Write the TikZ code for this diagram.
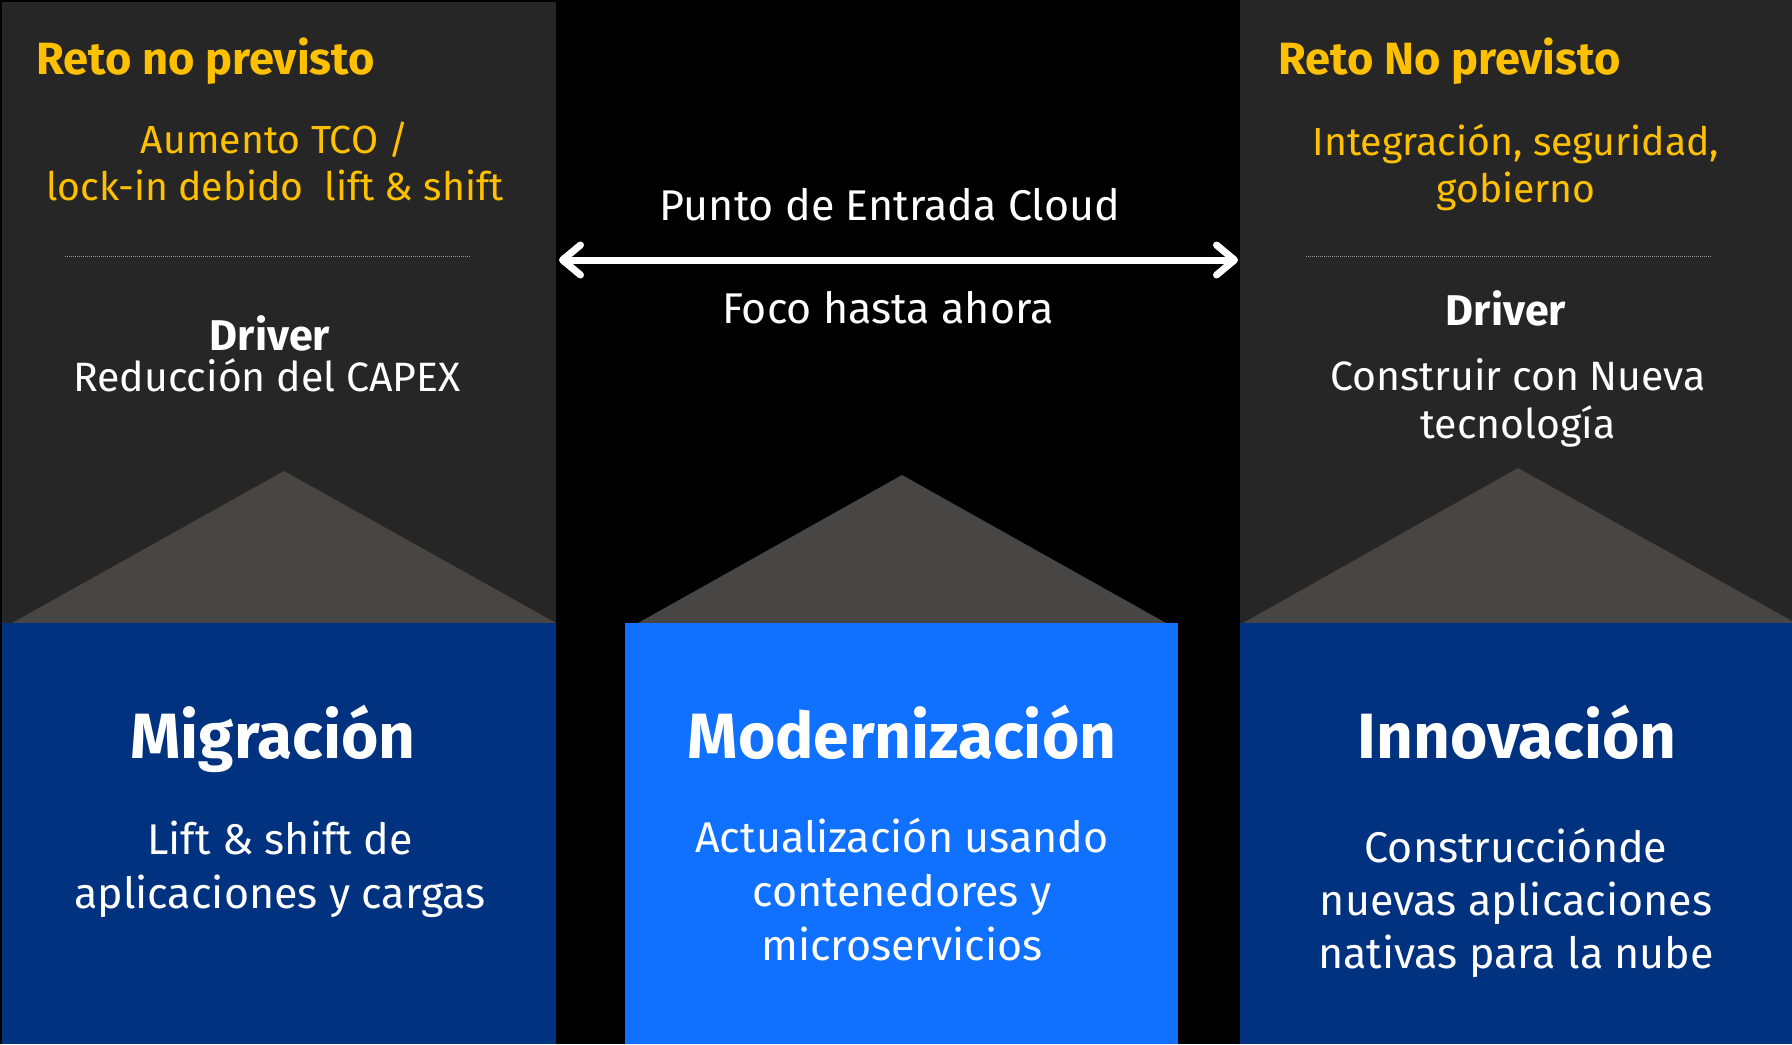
\documentclass[tikz,border=0pt]{standalone}
\usepackage{fontspec}
\setmainfont{Fira Sans}
\usetikzlibrary{arrows.meta}

\definecolor{panel}{RGB}{38,38,38}
\definecolor{roof}{RGB}{71,70,69}
\definecolor{navy}{RGB}{0,50,128}
\definecolor{sky}{RGB}{16,112,255}
\definecolor{amber}{RGB}{255,192,0}
\definecolor{rulegray}{RGB}{150,150,150}

\begin{document}
\begin{tikzpicture}[x=0.5pt,y=-0.5pt,
   reto/.style={text=amber,font=\fontsize{22.6}{26}\selectfont\bfseries,anchor=base west,inner sep=0pt},
   riesgo/.style={text=amber,font=\fontsize{19.6}{23.5}\selectfont,align=center,anchor=base,inner sep=0pt},
   drv/.style={text=white,font=\fontsize{21.5}{26}\selectfont\bfseries,anchor=base,inner sep=0pt},
   txt/.style={text=white,font=\fontsize{20.5}{24}\selectfont,align=center,anchor=base,inner sep=0pt},
   titulo/.style={text=white,font=\fontsize{32}{38}\selectfont\bfseries,anchor=base,inner sep=0pt},
   cuerpo/.style={text=white,font=\fontsize{21.5}{27}\selectfont,align=center,anchor=base,inner sep=0pt},
   sep/.style={rulegray,line width=0.5pt,dash pattern=on 0.5pt off 0.5pt},
   flecha/.style={white,line width=3.5pt,
      >={Straight Barb[length=9pt,width=15pt,line cap=round,line join=round]},<->}]
   \useasboundingbox (0,0) rectangle (1792,1044);
   \fill[black] (0,0) rectangle (1792,1044);
   % panels
   \fill[panel] (2,2) rectangle (556,623);
   \fill[panel] (1240,0) rectangle (1792,623);
   \fill[roof] (12,623) -- (284,471) -- (556,623) -- cycle;
   \fill[roof] (638,623) -- (902,475) -- (1166,623) -- cycle;
   \fill[roof] (1243,623) -- (1518,468) -- (1792,621) -- (1792,623) -- cycle;
   \fill[navy] (2,623) rectangle (556,1044);
   \fill[sky] (625,623) rectangle (1178,1044);
   \fill[navy] (1240,623) rectangle (1792,1044);
   \draw[sep] (65,256) -- (470,256);
   \draw[sep] (1306,256) -- (1712,256);
   % left (multi-line nodes sit on their last baseline)
   \draw (36,74) node[reto] (retoA) {Reto no previsto};
   \draw (275,200) node[riesgo] (riesgoA) {Aumento TCO /\\lock-in debido\ \ lift \& shift};
   \draw (270,350) node[drv] (drvA) {Driver};
   \draw (267,391) node[txt] (drvtxtA) {Reducción del CAPEX};
   % centre
   \draw (890,220) node[txt,font=\fontsize{21.5}{26}\selectfont] (entrada) {Punto de Entrada Cloud};
   \draw (888,323) node[txt,font=\fontsize{21.5}{26}\selectfont] (foco) {Foco hasta ahora};
   \coordinate (flechaA) at (559,260);
   \coordinate (flechaB) at (1238,260);
   \draw[flecha] (flechaA) -- (flechaB);
   % right
   \draw (1278,74) node[reto] (retoB) {Reto No previsto};
   \draw (1516,202) node[riesgo] (riesgoB) {Integración, seguridad,\\gobierno};
   \draw (1506,325) node[drv] (drvB) {Driver};
   \draw (1518,438) node[txt] (drvtxtB) {Construir con Nueva\\tecnología};
   % bottom
   \draw (273,758) node[titulo] (migra) {Migración};
   \draw (902,758) node[titulo] (moder) {Modernización};
   \draw (1517,758) node[titulo] (innov) {Innovación};
   \draw (280,908) node[cuerpo] (migratxt) {Lift \& shift de\\aplicaciones y cargas};
   \draw (902,960) node[cuerpo] (modertxt) {Actualización usando\\contenedores y\\microservicios};
   \draw (1516,968) node[cuerpo,font=\fontsize{21.5}{26.3}\selectfont] (innovtxt) {Construcciónde\\nuevas aplicaciones\\nativas para la nube};
\end{tikzpicture}
\end{document}
